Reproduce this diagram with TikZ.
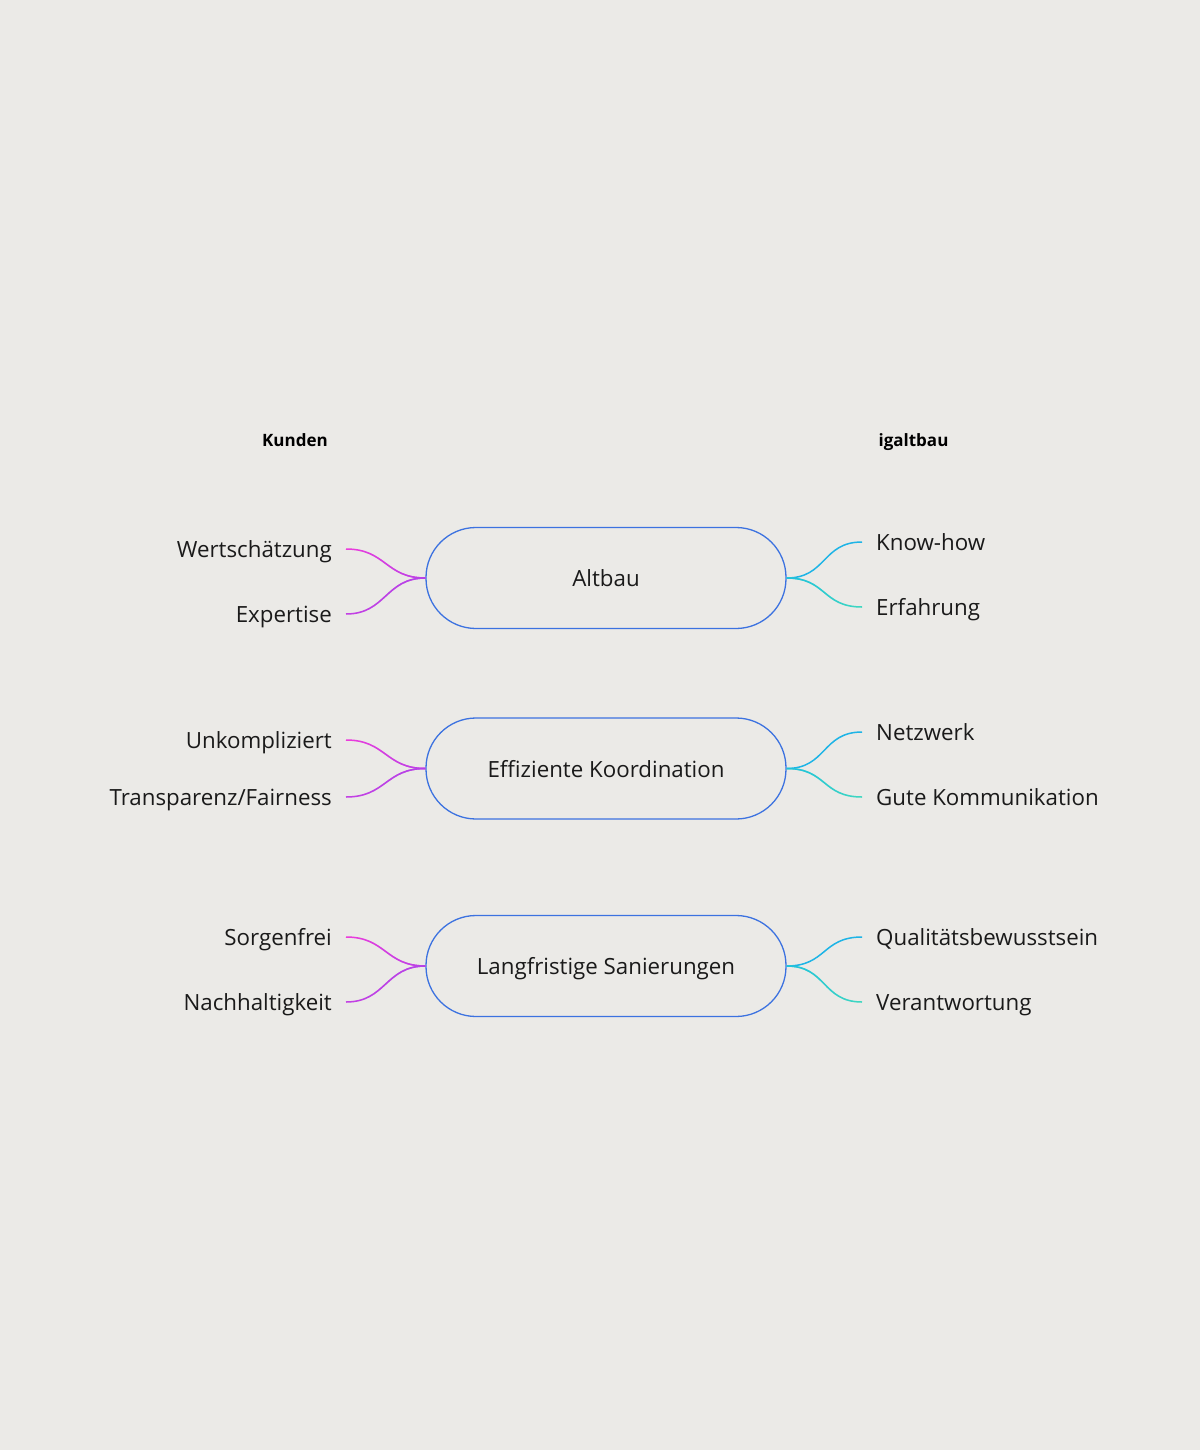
\documentclass[tikz,border=0pt]{standalone}
\usepackage{fontspec}
\setmainfont{Open Sans}
\usetikzlibrary{fadings}
\definecolor{bg}{HTML}{EBEAE7}
\definecolor{ink}{HTML}{1A1A1A}
\definecolor{boxblue}{HTML}{3C72E0}
\definecolor{magA}{HTML}{EE3CDC}
\definecolor{magB}{HTML}{B444E8}
\definecolor{magC}{HTML}{C440E4}
\definecolor{cyA}{HTML}{1EB4E6}
\definecolor{cyB}{HTML}{1EC0E0}
\definecolor{cyC}{HTML}{40D8C0}
\tikzfading[name=opaqueright, left color=transparent!100, right color=transparent!0]
\tikzfading[name=opaqueleft, left color=transparent!0, right color=transparent!100]
\tikzset{
  lbl/.style={text=ink, font=\fontsize{22.3}{26}\selectfont, inner xsep=14pt, inner ysep=0pt,
    text height=20pt, text depth=3pt},
  lleft/.style={lbl, anchor=east},
  lright/.style={lbl, anchor=west},
  hdr/.style={text=black, font=\bfseries\fontsize{17}{20}\selectfont, anchor=base},
  pill/.style={draw=boxblue, line width=1.3pt, minimum width=360pt, minimum height=101pt,
    rounded corners=50pt, text=ink, font=\fontsize{22.3}{26}\selectfont,
    text height=20pt, text depth=3pt},
  conn/.style={line width=1.5pt},
}
\begin{document}
\begin{tikzpicture}[x=1pt,y=-1pt]
\fill[bg] (0,0) rectangle (1200,1450);
\useasboundingbox (0,0) rectangle (1200,1450);

\node[hdr] (kunden) at (295,446.5) {Kunden};
\node[hdr] (igaltbau) at (913.5,446.5) {igaltbau};

% boxes
\node[pill] (b1) at (606,578) {Altbau};
\node[pill] (b2) at (606,768.5) {Effiziente Koordination};
\node[pill] (b3) at (606,966) {Langfristige Sanierungen};

% left labels
\node[lleft] (l11) at (346,549) {Wertschätzung};
\node[lleft] (l12) at (346,614) {Expertise};
\node[lleft] (l21) at (346,740) {Unkompliziert};
\node[lleft] (l22) at (346,797) {Transparenz/Fairness};
\node[lleft] (l31) at (346,937) {Sorgenfrei};
\node[lleft] (l32) at (346,1002) {Nachhaltigkeit};

% right labels
\node[lright] (r11) at (862,542) {Know-how};
\node[lright] (r12) at (862,607) {Erfahrung};
\node[lright] (r21) at (862,732) {Netzwerk};
\node[lright] (r22) at (862,797) {Gute Kommunikation};
\node[lright] (r31) at (862,937) {Qualitätsbewusstsein};
\node[lright] (r32) at (862,1002) {Verantwortung};

% connectors
\foreach \b/\la/\lb/\ra/\rb in {b1/l11/l12/r11/r12, b2/l21/l22/r21/r22, b3/l31/l32/r31/r32}{
  \draw[conn, magA] (\la.east) .. controls +(40,0) and +(-40,0) .. (\b.west);
  \draw[conn, magB, path fading=opaqueright] (\la.east) .. controls +(40,0) and +(-40,0) .. (\b.west);
  \draw[conn, magC] (\lb.east) .. controls +(40,0) and +(-40,0) .. (\b.west);
  \draw[conn, magB, path fading=opaqueright] (\lb.east) .. controls +(40,0) and +(-40,0) .. (\b.west);
  \draw[conn, cyA] (\b.east) .. controls +(40,0) and +(-40,0) .. (\ra.west);
  \draw[conn, cyC] (\b.east) .. controls +(40,0) and +(-40,0) .. (\rb.west);
  \draw[conn, cyB, path fading=opaqueleft] (\b.east) .. controls +(40,0) and +(-40,0) .. (\rb.west);
}
\end{tikzpicture}
\end{document}
